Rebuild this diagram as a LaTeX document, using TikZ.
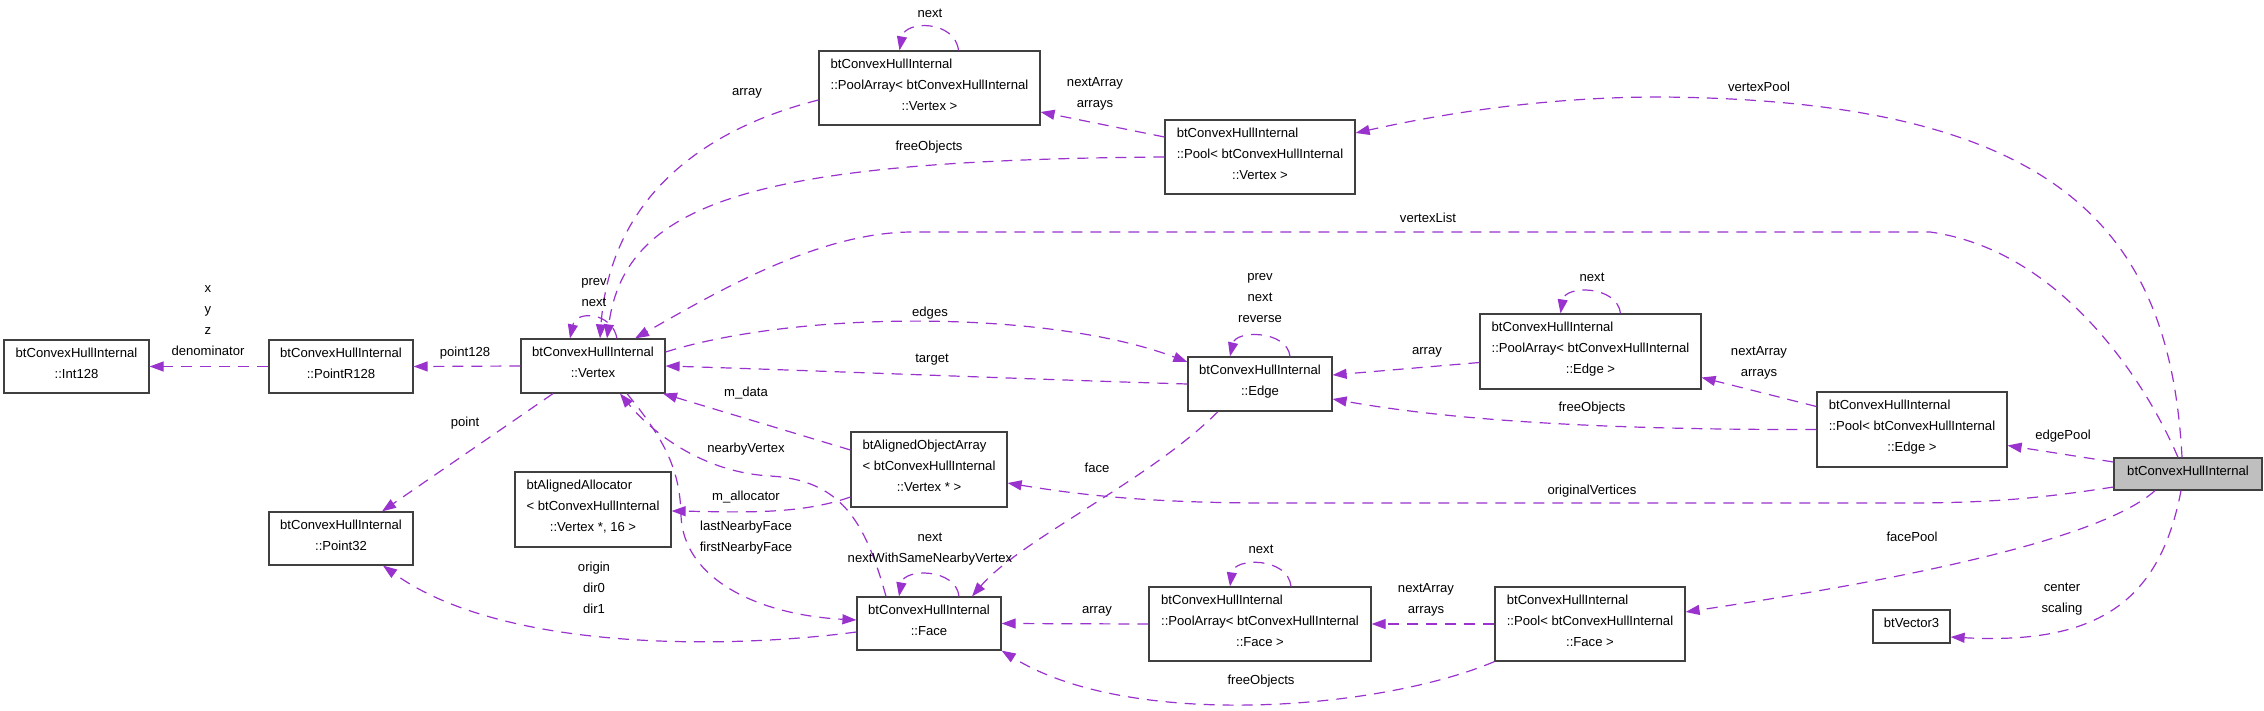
\documentclass[tikz,border=0pt]{standalone}
\usepackage{fontspec}
\setmainfont{Liberation Sans}
\usepackage{array}
\usepackage{xcolor}
\usepackage{tikz}
\usetikzlibrary{arrows.meta}

\definecolor{usecol}{HTML}{9A32CD}
\definecolor{maingray}{HTML}{BFBFBF}

\newcommand{\oneline}[1]{\begin{tabular}{@{}c@{}}#1\rule[-12.3pt]{0pt}{1pt}\end{tabular}}
\newcommand{\twoline}[2]{\begin{tabular}{@{}c@{}}#1\\#2\rule[-12.3pt]{0pt}{1pt}\end{tabular}}
\newcommand{\threeline}[3]{\begin{tabular}{@{}l@{}}#1\\#2\\\multicolumn{1}{@{}c@{}}{#3\rule[-12.3pt]{0pt}{1pt}}\end{tabular}}

\begin{document}
\begin{tikzpicture}[x=1pt,y=-1pt,
		cls/.style={draw=black!75, line width=1.2pt, fill=white, inner sep=0pt,
			font=\fontsize{13.1}{21}\selectfont},
		mainbox/.style={cls, fill=maingray},
		lbl/.style={inner sep=0pt, align=center, font=\fontsize{13.1}{21}\selectfont},
		use/.style={draw=usecol, line width=1.2pt, dash pattern=on 11pt off 8pt,
			-{Triangle[length=14pt,width=10pt]}}]
				\useasboundingbox (0,0) rectangle (2264,711);

				\node[cls, minimum width=145pt, minimum height=53pt] (int128) at (76.5,366.5) {\twoline{btConvexHullInternal}{::Int128}};
				\node[cls, minimum width=144pt, minimum height=53pt] (pointR128) at (341,366.5) {\twoline{btConvexHullInternal}{::PointR128}};
				\node[cls, minimum width=144pt, minimum height=54pt] (vertex) at (593,366) {\twoline{btConvexHullInternal}{::Vertex}};
				\node[cls, minimum width=144pt, minimum height=53pt] (point32) at (341,538.5) {\twoline{btConvexHullInternal}{::Point32}};
				\node[cls, minimum width=156pt, minimum height=75pt] (allocator) at (593,509.5) {\threeline{btAlignedAllocator}{< btConvexHullInternal}{::Vertex *, 16 >}};
				\node[cls, minimum width=156pt, minimum height=75pt] (objArray) at (929,469.5) {\threeline{btAlignedObjectArray}{< btConvexHullInternal}{::Vertex * >}};
				\node[cls, minimum width=144pt, minimum height=53pt] (face) at (929,623.5) {\twoline{btConvexHullInternal}{::Face}};
				\node[cls, minimum width=144pt, minimum height=54pt] (edge) at (1260,384) {\twoline{btConvexHullInternal}{::Edge}};
				\node[cls, minimum width=221pt, minimum height=74pt] (poolArrayV) at (929.5,88) {\threeline{btConvexHullInternal}{::PoolArray< btConvexHullInternal}{::Vertex >}};
				\node[cls, minimum width=190pt, minimum height=74pt] (poolV) at (1260,157) {\threeline{btConvexHullInternal}{::Pool< btConvexHullInternal}{::Vertex >}};
				\node[cls, minimum width=221pt, minimum height=75pt] (poolArrayE) at (1590.5,351.5) {\threeline{btConvexHullInternal}{::PoolArray< btConvexHullInternal}{::Edge >}};
				\node[cls, minimum width=190pt, minimum height=75pt] (poolE) at (1912,429.5) {\threeline{btConvexHullInternal}{::Pool< btConvexHullInternal}{::Edge >}};
				\node[cls, minimum width=222pt, minimum height=74pt] (poolArrayF) at (1260,624) {\threeline{btConvexHullInternal}{::PoolArray< btConvexHullInternal}{::Face >}};
				\node[cls, minimum width=190pt, minimum height=74pt] (poolF) at (1590,624) {\threeline{btConvexHullInternal}{::Pool< btConvexHullInternal}{::Face >}};
				\node[mainbox, minimum width=148pt, minimum height=32pt] (hull) at (2188,474) {\oneline{btConvexHullInternal}};
				\node[cls, minimum width=77pt, minimum height=33pt] (vector3) at (1911.5,626.5) {\oneline{btVector3}};

				\draw[use] (pointR128.west) -- (int128.east);
				\draw[use] (vertex.west) -- (pointR128.east);
				\draw[use] ([xshift=-40pt]vertex.south) -- ([xshift=41pt]point32.north);
				\draw[use] ([xshift=24pt]vertex.north) .. controls (612,312) and (576,310) .. ([xshift=-23pt]vertex.north);
				\draw[use] ([yshift=-12pt]poolArrayV.west) .. controls (700,130) and (610,200) .. ([xshift=7pt]vertex.north);
				\draw[use] (poolV.west) .. controls (760,160) and (625,200) .. ([xshift=14pt]vertex.north);
				\draw[use] ([xshift=-10pt]hull.north) .. controls (2145,380) and (2060,250) .. (1930,232) -- (913,232) .. controls (820,232) and (720,290) .. ([xshift=42pt]vertex.north);
				\draw[use] ([xshift=-6pt]hull.north) .. controls (2170,230) and (2060,100) .. (1660,97) .. controls (1550,97) and (1450,112) .. ([yshift=24pt]poolV.east);
				\draw[use] ([yshift=20pt]poolV.west) -- ([yshift=-24pt]poolArrayV.east);
				\draw[use] ([xshift=29pt]poolArrayV.north) .. controls (955,20) and (905,20) .. ([xshift=-30pt]poolArrayV.north);

				\draw[use] ([yshift=14pt]vertex.east) .. controls (800,310) and (1050,310) .. ([yshift=22pt]edge.west);
				\draw[use] (edge.west) .. controls (1050,380) and (800,370) .. (vertex.east);
				\draw[use] ([xshift=30pt]edge.north) .. controls (1287,330) and (1236,330) .. ([xshift=-30pt]edge.north);
				\draw[use] ([yshift=-11pt]poolArrayE.west) -- ([yshift=9pt]edge.east);
				\draw[use] (poolE.west) .. controls (1600,430) and (1450,420) .. ([yshift=-15pt]edge.east);
				\draw[use] ([yshift=23pt]poolE.west) -- ([yshift=-26pt]poolArrayE.east);
				\draw[use] ([xshift=30pt]poolArrayE.north) .. controls (1617,285) and (1565,285) .. ([xshift=-30pt]poolArrayE.north);
				\draw[use] ([yshift=12pt]hull.west) -- ([yshift=-16pt]poolE.east);
				\draw[use] ([yshift=-13pt]hull.west) .. controls (2030,500) and (1980,503) .. (1900,503) -- (1270,503) .. controls (1150,503) and (1080,495) .. ([yshift=-13.5pt]objArray.east);
				\draw[use] ([xshift=-33pt]hull.south) .. controls (2100,540) and (1900,580) .. ([yshift=12pt]poolF.east);
				\draw[use] ([xshift=-7pt]hull.south) .. controls (2160,600) and (2100,645) .. ([yshift=-10.5pt]vector3.east);

				\draw[use] (poolF.west) -- (poolArrayF.east);
				\draw[use] (poolArrayF.west) -- (face.east);
				\draw[use] ([xshift=31pt]poolArrayF.north) .. controls (1288,557) and (1234,557) .. ([xshift=-30pt]poolArrayF.north);
				\draw[use] (poolF.south west) .. controls (1380,710) and (1130,730) .. (face.south east);
				\draw[use] ([xshift=30pt]face.north) .. controls (956,568) and (904,568) .. ([xshift=-30pt]face.north);
				\draw[use] ([xshift=-42pt]edge.south) .. controls (1150,480) and (1020,540) .. ([xshift=43pt]face.north);
				\draw[use] ([yshift=-8.5pt]face.west) .. controls (720,650) and (500,650) .. ([xshift=42pt]point32.south);
				\draw[use] ([xshift=34pt]vertex.south) .. controls (665,440) and (680,470) .. (681,515) .. controls (683,580) and (760,615) .. ([yshift=3.5pt]face.west);
				\draw[use] ([xshift=-43pt]face.north) .. controls (865,520) and (840,480) .. (770,476) .. controls (700,472) and (650,430) .. ([xshift=27pt]vertex.south);
				\draw[use] ([yshift=19.5pt]objArray.west) -- ([xshift=70pt]vertex.south);
				\draw[use] ([yshift=-27.5pt]objArray.west) .. controls (800,515) and (740,512) .. ([yshift=-1.5pt]allocator.east);

				\node[lbl] (lblCoords) at (208,321) {x\\y\\z\\denominator};
				\node[lbl] (lblPoint128) at (465,353) {point128};
				\node[lbl] (lblPoint) at (465,423) {point};
				\node[lbl] (lblVertexLinks) at (594,292.5) {prev\\next};
				\node[lbl] (lblArrayV) at (747,93) {array};
				\node[lbl] (lblArraysV) at (1095,93.5) {nextArray\\arrays};
				\node[lbl] (lblFreeV) at (929,147) {freeObjects};
				\node[lbl] (lblNextV) at (930,13) {next};
				\node[lbl] (lblVertexPool) at (1759,87) {vertexPool};
				\node[lbl] (lblVertexList) at (1428,218) {vertexList};
				\node[lbl] (lblEdges) at (930,313) {edges};
				\node[lbl] (lblTarget) at (932,360) {target};
				\node[lbl] (lblEdgeLinks) at (1260,298.5) {prev\\next\\reverse};
				\node[lbl] (lblArrayE) at (1427,352) {array};
				\node[lbl] (lblNextE) at (1592,277) {next};
				\node[lbl] (lblArraysE) at (1759,362.5) {nextArray\\arrays};
				\node[lbl] (lblFreeE) at (1592,408) {freeObjects};
				\node[lbl] (lblEdgePool) at (2063,436) {edgePool};
				\node[lbl] (lblOriginal) at (1592,491) {originalVertices};
				\node[lbl] (lblData) at (746,393) {m\_data};
				\node[lbl] (lblNearby) at (746,449) {nearbyVertex};
				\node[lbl] (lblAllocator) at (746,497) {m\_allocator};
				\node[lbl] (lblNearbyFace) at (746,537.5) {lastNearbyFace\\firstNearbyFace};
				\node[lbl] (lblPlane) at (594,588) {origin\\dir0\\dir1};
				\node[lbl] (lblFaceLinks) at (930,549.5) {next\\nextWithSameNearbyVertex};
				\node[lbl] (lblFace) at (1097,468) {face};
				\node[lbl] (lblArrayF) at (1097,611) {array};
				\node[lbl] (lblNextF) at (1261,549) {next};
				\node[lbl] (lblArraysF) at (1426,600) {nextArray\\arrays};
				\node[lbl] (lblFreeF) at (1261,681) {freeObjects};
				\node[lbl] (lblFacePool) at (1912,537) {facePool};
				\node[lbl] (lblScale) at (2062,599.5) {center\\scaling};
\end{tikzpicture}
\end{document}
